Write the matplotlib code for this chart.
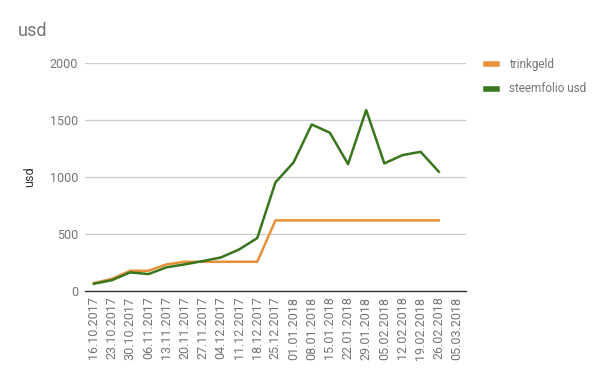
import matplotlib
matplotlib.use('Agg')
from matplotlib import pyplot as plt

dates = ['16.10.2017', '23.10.2017', '30.10.2017', '06.11.2017', '13.11.2017',
         '20.11.2017', '27.11.2017', '04.12.2017', '11.12.2017', '18.12.2017',
         '25.12.2017', '01.01.2018', '08.01.2018', '15.01.2018', '22.01.2018',
         '29.01.2018', '05.02.2018', '12.02.2018', '19.02.2018', '26.02.2018',
         '05.03.2018']
trinkgeld = [70, 108, 178, 178, 234, 257, 257, 257, 257, 257,
             620, 620, 620, 620, 620, 620, 620, 620, 620, 620]
steemfolio = [64, 96, 164, 149, 208, 234, 263, 295, 365, 465,
              953, 1129, 1462, 1389, 1114, 1588, 1120, 1193, 1222, 1047]

plt.rcParams['font.family'] = ['Roboto', 'DejaVu Sans']
grey = '#757575'

fig = plt.figure(figsize=(6.06, 3.78), dpi=100)
ax = fig.add_axes([0.140, 0.230, 0.629, 0.603])

x = range(len(dates))
ax.plot(x[:len(trinkgeld)], trinkgeld, color='#e69138', lw=1.8, label='trinkgeld')
ax.plot(x[:len(steemfolio)], steemfolio, color='#38761d', lw=1.8, label='steemfolio usd')

ax.set_xlim(-0.5, len(dates) - 0.5)
ax.set_ylim(0, 2000)
ax.set_yticks([0, 500, 1000, 1500, 2000])
ax.set_xticks(list(x))
ax.set_xticklabels(dates, rotation=90, fontsize=9, color=grey)
ax.tick_params(axis='y', labelsize=9, labelcolor=grey, length=0, pad=5)
ax.tick_params(axis='x', length=0, pad=4)
ax.grid(axis='y', color='#cccccc', lw=0.9)
ax.set_axisbelow(True)
for s in ['top', 'right', 'left']:
    ax.spines[s].set_visible(False)
ax.spines['bottom'].set_color('#333333')
ax.spines['bottom'].set_linewidth(1.0)
ax.set_ylabel('usd', fontsize=9, color='#333333', labelpad=10)

fig.text(0.030, 0.918, 'usd', fontsize=13, color=grey, va='center')
fig.legend(loc='upper left', bbox_to_anchor=(0.785, 0.874), frameon=False,
           fontsize=8.5, labelcolor=grey, handlelength=0.9, handleheight=0.6,
           labelspacing=0.95, handletextpad=1.0)
for h in fig.legends[0].legend_handles:
    h.set_linewidth(4)

fig.savefig('out.png', dpi=100)
